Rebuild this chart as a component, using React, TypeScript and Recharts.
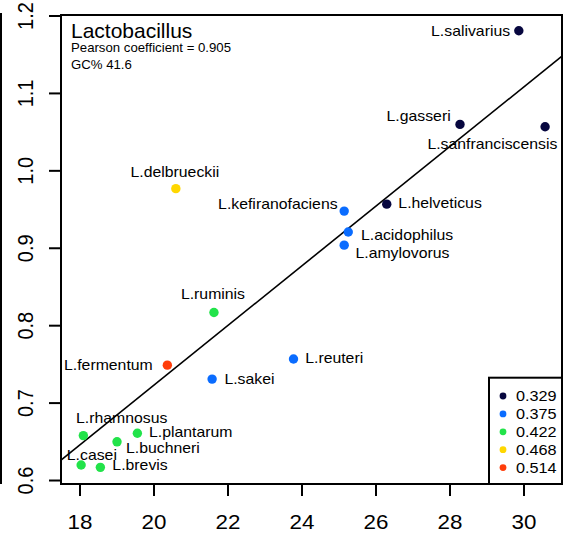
import React from "react";
import { ScatterChart, Scatter, XAxis, YAxis, ReferenceLine, ReferenceArea } from "recharts";

// ---------- data ----------
const species = [
  "L.salivarius", "L.gasseri", "L.sanfranciscensis", "L.helveticus",
  "L.kefiranofaciens", "L.acidophilus", "L.amylovorus", "L.delbrueckii",
  "L.ruminis", "L.fermentum", "L.sakei", "L.reuteri",
  "L.rhamnosus", "L.plantarum", "L.buchneri", "L.casei", "L.brevis",
];
const xValues = [29.86, 28.27, 30.57, 26.29, 25.14, 25.25, 25.14, 20.59, 21.62, 20.36, 21.57, 23.77, 18.09, 19.55, 19.0, 18.03, 18.55];
const yValues = [1.181, 1.060, 1.057, 0.957, 0.948, 0.921, 0.904, 0.977, 0.817, 0.749, 0.731, 0.757, 0.658, 0.661, 0.650, 0.620, 0.617];
const groupIndex = [0, 0, 0, 0, 1, 1, 1, 3, 2, 4, 1, 1, 2, 2, 2, 2, 2];

const groupLabels = ["0.329", "0.375", "0.422", "0.468", "0.514"];
const groupColors = ["#07073F", "#0A6CFF", "#22E34A", "#FFD700", "#FF3D0A"];

const xTicks = [18, 20, 22, 24, 26, 28, 30];
const yTicks = [0.6, 0.7, 0.8, 0.9, 1.0, 1.1, 1.2];
const xDomain: [number, number] = [17.486, 31.027];
const yDomain: [number, number] = [0.5955, 1.2013];

const fitIntercept = -0.0473;
const fitSlope = 0.03853;

const title = "Lactobacillus";
const subtitle1 = "Pearson coefficient = 0.905";
const subtitle2 = "GC% 41.6";

// ---------- styling ----------
const FONT = "'Liberation Sans', Arial, Helvetica, sans-serif";
const SX = 1.13;

// label placement relative to the dot (anchor, dx, dy)
const labelPlacement: Record<string, [string, number, number]> = {
  "L.salivarius": ["end", -8.7, 5],
  "L.gasseri": ["end", -9.3, -3.6],
  "L.sanfranciscensis": ["end", 12.3, 22.3],
  "L.helveticus": ["start", 11.6, 4],
  "L.kefiranofaciens": ["end", -6.6, -2],
  "L.acidophilus": ["start", 12.7, 8.3],
  "L.amylovorus": ["start", 11.3, 13.3],
  "L.delbrueckii": ["middle", -1, -11.6],
  "L.ruminis": ["middle", -1, -13.4],
  "L.fermentum": ["end", -14.6, 5],
  "L.sakei": ["start", 12.3, 4.7],
  "L.reuteri": ["start", 11.7, 4.3],
  "L.rhamnosus": ["start", -7.3, -12.4],
  "L.plantarum": ["start", 11.7, 3.7],
  "L.buchneri": ["start", 9, 10.7],
  "L.casei": ["start", -14.3, -5.4],
  "L.brevis": ["start", 12, 3],
};

const points = species.map((name, i) => ({
  name,
  x: xValues[i],
  y: yValues[i],
  g: groupIndex[i],
}));

const groups = groupLabels.map((_, gi) => points.filter((p) => p.g === gi));

function StretchText(props: { x: number; y: number; text: string; size: number; anchor?: string; scale?: number; rotate?: number }) {
  const { x, y, text, size, anchor = "start", scale = SX, rotate = 0 } = props;
  return (
    <text
      transform={`translate(${x},${y}) scale(${scale},1)${rotate ? ` rotate(${rotate})` : ""}`}
      x={0}
      y={0}
      textAnchor={anchor as any}
      fontFamily={FONT}
      fontSize={size}
      fill="#000"
    >
      {text}
    </text>
  );
}

const renderDot = (props: any) => {
  const { cx, cy, payload } = props;
  if (cx == null || cy == null) return <g />;
  const place = labelPlacement[payload.name] || ["start", 10, 4];
  return (
    <g>
      <circle cx={cx} cy={cy} r={4.7} fill={groupColors[payload.g]} />
      <StretchText x={cx + place[1]} y={cy + place[2]} text={payload.name} size={14} anchor={place[0]} />
    </g>
  );
};

const XTick = (props: any) => {
  const { x, payload } = props;
  return <StretchText x={x} y={529} text={String(payload.value)} size={20} anchor="middle" scale={1.12} />;
};

const YTick = (props: any) => {
  const { y, payload } = props;
  return <StretchText x={33} y={y} text={Number(payload.value).toFixed(1)} size={20} anchor="middle" scale={1.12} rotate={-90} />;
};

export default function App() {
  return (
    <div style={{ position: "absolute", left: 0, top: 0, width: 563, height: 533, background: "#fff" }}>
      <ScatterChart width={563} height={533} margin={{ top: 15, right: 1, bottom: 0, left: 0 }}>
        <XAxis
          type="number"
          dataKey="x"
          domain={xDomain}
          ticks={xTicks}
          interval={0}
          allowDataOverflow
          height={49}
          tickSize={12}
          axisLine={false}
          tickLine={{ stroke: "#000", strokeWidth: 2 }}
          tick={<XTick />}
        />
        <YAxis
          type="number"
          dataKey="y"
          domain={yDomain}
          ticks={yTicks}
          interval={0}
          allowDataOverflow
          width={61}
          tickSize={12}
          axisLine={false}
          tickLine={{ stroke: "#000", strokeWidth: 2 }}
          tick={<YTick />}
        />
        {groups.map((data, gi) => (
          <Scatter
            key={gi}
            data={data}
            fill={groupColors[gi]}
            shape={renderDot}
            isAnimationActive={false}
          />
        ))}
        <ReferenceLine
          segment={[
            { x: xDomain[0], y: fitIntercept + fitSlope * xDomain[0] },
            { x: xDomain[1], y: fitIntercept + fitSlope * xDomain[1] },
          ]}
          stroke="#000"
          strokeWidth={1.6}
          ifOverflow="visible"
        />
        <ReferenceArea
          x1={xDomain[0]}
          x2={xDomain[1]}
          y1={yDomain[0]}
          y2={yDomain[1]}
          fill="none"
          fillOpacity={0}
          stroke="#000"
          strokeWidth={2}
          ifOverflow="visible"
        />
      </ScatterChart>
      <svg
        width={563}
        height={533}
        style={{ position: "absolute", left: 0, top: 0, pointerEvents: "none" }}
      >
        <rect x={0} y={13} width={2} height={471} fill="#000" />
        <StretchText x={71} y={38.3} text={title} size={20} scale={1.05} />
        <StretchText x={71} y={52.3} text={subtitle1} size={12} scale={1.1} />
        <StretchText x={71} y={69} text={subtitle2} size={12} scale={1.1} />
        <rect x={489} y={377.7} width={73} height={106.3} fill="#fff" stroke="#000" strokeWidth={2} />
        {groupLabels.map((lab, i) => (
          <g key={lab}>
            <circle cx={503} cy={396 + i * 17.9} r={3.4} fill={groupColors[i]} />
            <StretchText x={516} y={396 + i * 17.9 + 5} text={lab} size={14} scale={1.16} />
          </g>
        ))}
      </svg>
    </div>
  );
}
